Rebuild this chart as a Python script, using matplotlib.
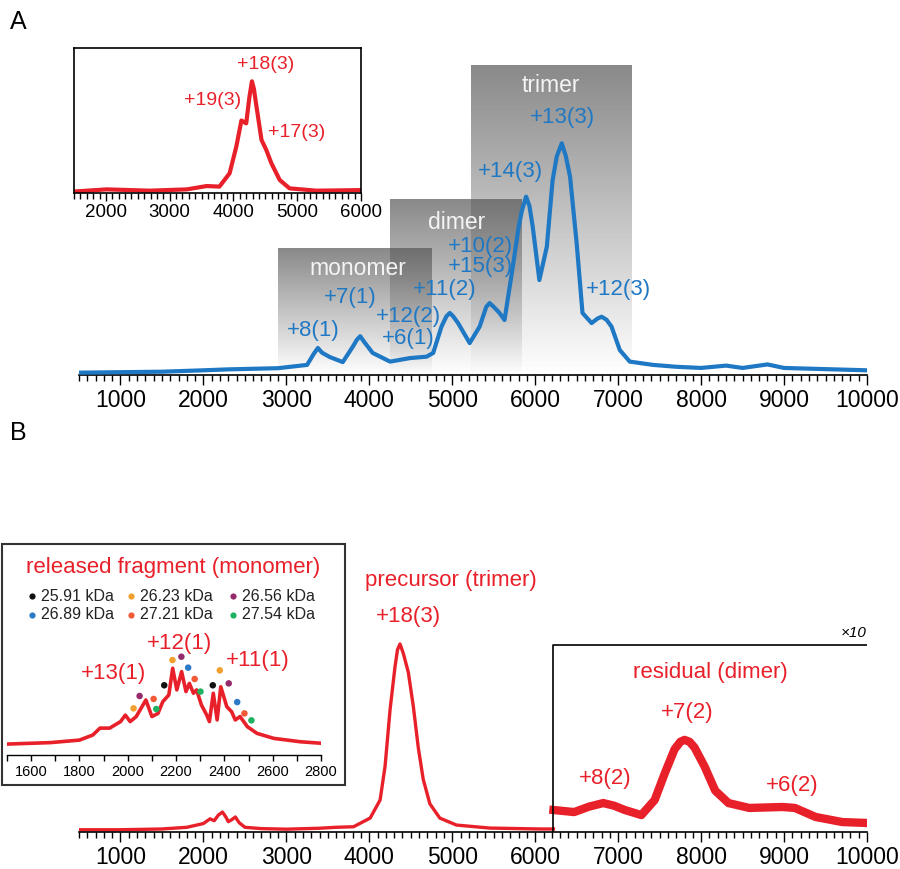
import numpy as np
import matplotlib.pyplot as plt
from matplotlib.patches import Rectangle
from matplotlib.ticker import MultipleLocator

plt.rcParams['font.family'] = ['Liberation Sans', 'DejaVu Sans']

# panel A - native spectrum (m/z, relative intensity)
a_mz = [500, 1000, 1500, 2000, 2300, 2900, 3250, 3330, 3380, 3430, 3520, 3680, 3800, 3850,
        3890, 3940, 4040, 4250, 4490, 4690, 4770, 4870, 4930, 4970, 5010, 5070, 5210, 5330,
        5410, 5450, 5500, 5570, 5630, 5730, 5800, 5840, 5890, 5930, 5970, 6050, 6140, 6210,
        6260, 6320, 6370, 6420, 6500, 6570, 6680, 6750, 6800, 6860, 6920, 7020, 7140, 7420,
        7700, 8000, 8300, 8500, 8800, 9000, 9500, 10000]
a_int = [0.010, 0.012, 0.014, 0.020, 0.024, 0.029, 0.043, 0.09, 0.115, 0.095, 0.077, 0.055,
         0.12, 0.15, 0.165, 0.14, 0.094, 0.057, 0.072, 0.078, 0.094, 0.206, 0.25, 0.264, 0.25,
         0.221, 0.136, 0.206, 0.29, 0.306, 0.29, 0.264, 0.234, 0.461, 0.63, 0.70, 0.759,
         0.72, 0.631, 0.404, 0.546, 0.83, 0.93, 0.986, 0.93, 0.844, 0.56, 0.264, 0.221, 0.24,
         0.248, 0.235, 0.206, 0.106, 0.057, 0.043, 0.035, 0.03, 0.04, 0.03, 0.045, 0.03,
         0.025, 0.02]

# oligomer regions shaded in panel A
regions = ['monomer', 'dimer', 'trimer']
region_start = [2900, 4250, 5220]
region_end = [4750, 5830, 7160]
region_top = [0.54, 0.745, 1.315]

# inset of panel A
ins_a_mz = [1500, 2010, 2690, 3270, 3580, 3780, 3940, 4045, 4125, 4200, 4250, 4290, 4320,
            4360, 4440, 4515, 4595, 4725, 4880, 5300, 6000]
ins_a_int = [0.01, 0.025, 0.016, 0.025, 0.048, 0.044, 0.136, 0.32, 0.50, 0.48, 0.66, 0.77,
             0.72, 0.60, 0.366, 0.297, 0.205, 0.09, 0.032, 0.016, 0.02]

# panel B - after activation
b_mz = [500, 1000, 1500, 1800, 1900, 2000, 2080, 2130, 2180, 2230, 2270, 2300, 2340, 2385,
        2430, 2500, 2700, 3000, 3400, 3600, 3810, 4010, 4130, 4190, 4250, 4310, 4340, 4370,
        4410, 4470, 4530, 4590, 4650, 4730, 4850, 5050, 5450, 6060, 6220]
b_int = [0.012, 0.012, 0.016, 0.025, 0.035, 0.045, 0.07, 0.06, 0.09, 0.106, 0.08, 0.055,
         0.065, 0.08, 0.05, 0.025, 0.018, 0.015, 0.02, 0.025, 0.028, 0.074, 0.17, 0.35, 0.65,
         0.88, 0.97, 1.0, 0.95, 0.85, 0.67, 0.45, 0.28, 0.15, 0.074, 0.037, 0.021, 0.016,
         0.016]

# residual dimer region, shown x10
res_mz = [6220, 6470, 6650, 6820, 6950, 7080, 7280, 7440, 7560, 7680, 7750, 7800, 7860, 7920,
          8040, 8170, 8330, 8580, 8980, 9130, 9380, 9700, 10000]
res_int = [0.117, 0.106, 0.135, 0.154, 0.14, 0.117, 0.09, 0.17, 0.31, 0.44, 0.48, 0.49, 0.48,
           0.45, 0.35, 0.22, 0.154, 0.128, 0.133, 0.128, 0.08, 0.053, 0.048]

# released fragment zoom
frag_mz = [1500, 1680, 1800, 1855, 1885, 1925, 1970, 1990, 2010, 2035, 2075, 2100, 2125, 2145,
           2170, 2186, 2203, 2223, 2241, 2255, 2272, 2285, 2305, 2327, 2338, 2354, 2370, 2385,
           2410, 2430, 2445, 2465, 2495, 2535, 2605, 2715, 2800]
frag_int = [0.052, 0.059, 0.071, 0.095, 0.128, 0.128, 0.159, 0.19, 0.159, 0.183, 0.262, 0.183,
            0.198, 0.254, 0.286, 0.413, 0.31, 0.397, 0.302, 0.341, 0.294, 0.31, 0.238, 0.19,
            0.159, 0.294, 0.167, 0.325, 0.23, 0.206, 0.167, 0.183, 0.135, 0.103, 0.079, 0.063,
            0.056]

species = ['25.91 kDa', '26.23 kDa', '26.56 kDa', '26.89 kDa', '27.21 kDa', '27.54 kDa']
species_colors = ['#111111', '#f0a030', '#952a6c', '#2a7ac8', '#f05a36', '#1fb15f']
dot_mz = [2024, 2049, 2107, 2118, 2151, 2185, 2222, 2250, 2277, 2301, 2352, 2381, 2418, 2453,
          2483, 2512]
dot_int = [0.222, 0.281, 0.267, 0.219, 0.332, 0.452, 0.468, 0.416, 0.362, 0.302, 0.332, 0.403,
           0.341, 0.252, 0.198, 0.165]
dot_species = [1, 2, 4, 5, 0, 1, 2, 3, 4, 5, 0, 1, 2, 3, 4, 5]

blue = '#1f78c4'
red = '#e8202a'
sans = ['Liberation Sans', 'DejaVu Sans']

W, H = 900, 869
fig = plt.figure(figsize=(W / 100, H / 100), dpi=100)


def box(x0, y0, x1, y1):
    # pixel box (top-left origin) -> figure fraction rect
    return [x0 / W, 1 - y1 / H, (x1 - x0) / W, (y1 - y0) / H]


def bottom_axis(ax, labelsize, major, minor, majlen=7, minlen=4):
    for s in ['left', 'right', 'top']:
        ax.spines[s].set_visible(False)
    ax.spines['bottom'].set_linewidth(1.2)
    ax.set_yticks([])
    ax.set_xticks(major)
    ax.xaxis.set_minor_locator(MultipleLocator(minor))
    ax.tick_params(axis='x', which='major', length=majlen, width=1, labelsize=labelsize, pad=3)
    ax.tick_params(axis='x', which='minor', length=minlen, width=1)


# ---------------- panel A ----------------
axA = fig.add_axes(box(79, 57.75, 867, 375))
for name, x0, x1, top in zip(regions, region_start, region_end, region_top):
    rgba = np.zeros((256, 1, 4))
    rgba[..., :3] = 0.34
    rgba[:, 0, 3] = np.linspace(0, 0.7, 256)
    axA.imshow(rgba, extent=[x0, x1, 0, top], origin='lower', aspect='auto', zorder=1,
               interpolation='bilinear')
axA.plot(a_mz, a_int, color=blue, lw=3.0, zorder=3, solid_joinstyle='round')
axA.set_xlim(500, 10000)
axA.set_ylim(0, 1.35)
bottom_axis(axA, 16.5, range(1000, 10001, 1000), 100)

for txt, x, y in [('monomer', 3863, 0.455), ('dimer', 5057, 0.651), ('trimer', 6190, 1.234)]:
    axA.text(x, y, txt, color='#f4f4f4', fontsize=16.5, ha='center', va='center', zorder=4)

a_labels = [('+13(3)', 6323, 1.094), ('+14(3)', 5696, 0.864), ('+10(2)', 5334, 0.545),
            ('+15(3)', 5334, 0.46), ('+11(2)', 4912, 0.362), ('+7(1)', 3767, 0.328),
            ('+12(2)', 4466, 0.247), ('+8(1)', 3321, 0.191), ('+6(1)', 4466, 0.157),
            ('+12(3)', 6998, 0.362)]
for txt, x, y in a_labels:
    axA.text(x, y, txt, color=blue, fontsize=16, ha='center', va='center', zorder=4)

# inset of A
axAi = fig.add_axes(box(74, 48, 361, 193))
axAi.plot(ins_a_mz, ins_a_int, color=red, lw=3.0, solid_joinstyle='round')
axAi.set_xlim(1500, 6000)
axAi.set_ylim(0, 1)
for s in axAi.spines.values():
    s.set_linewidth(1.2)
axAi.set_yticks([])
axAi.set_xticks(range(2000, 6001, 1000))
axAi.xaxis.set_minor_locator(MultipleLocator(100))
axAi.tick_params(axis='x', which='major', length=6, width=1, labelsize=13.5, pad=2)
axAi.tick_params(axis='x', which='minor', length=4, width=1)
for txt, x, y in [('+18(3)', 4512, 0.883), ('+19(3)', 3680, 0.641), ('+17(3)', 4998, 0.414)]:
    axAi.text(x, y, txt, color=red, fontsize=14, ha='center', va='center')

# ---------------- panel B ----------------
axB = fig.add_axes(box(79, 559.4, 867, 832))
axB.plot(b_mz, b_int, color=red, lw=2.4, solid_joinstyle='round')
axB.plot(res_mz, res_int, color=red, lw=6.0, solid_joinstyle='round')
axB.plot([6220, 6220, 10000], [0, 0.995, 0.995], color='black', lw=1.2)
axB.set_xlim(500, 10000)
axB.set_ylim(0, 1.45)
bottom_axis(axB, 16.5, range(1000, 10001, 1000), 100)
axB.text(10000, 1.02, '×10', fontsize=11, style='italic', ha='right', va='bottom')
b_labels = [('precursor (trimer)', 4985, 1.34), ('+18(3)', 4466, 1.144),
            ('residual (dimer)', 8107, 0.846), ('+7(2)', 7830, 0.633),
            ('+8(2)', 6841, 0.287), ('+6(2)', 9095, 0.25)]
for txt, x, y in b_labels:
    axB.text(x, y, txt, color=red, fontsize=16, ha='center', va='center')

# released fragment inset with frame
fig.add_artist(Rectangle(box(2, 544, 345, 785)[:2], 343 / W, 241 / H, transform=fig.transFigure,
                         fill=False, edgecolor='#333333', lw=1.5))
axBi = fig.add_axes(box(7, 545, 321, 755))
axBi.patch.set_visible(False)
axBi.plot(frag_mz, frag_int, color=red, lw=2.6, solid_joinstyle='round')
axBi.scatter(dot_mz, dot_int, c=[species_colors[i] for i in dot_species], s=22, zorder=3,
             linewidths=0)
axBi.set_xlim(1500, 2800)
axBi.set_ylim(0, 1)
bottom_axis(axBi, 10.5, range(1600, 2801, 200), 100, majlen=4, minlen=4)
axBi.spines['bottom'].set_linewidth(1.0)
axBi.text(2187, 0.895, 'released fragment (monomer)', color=red, fontsize=16,
          ha='center', va='center')
legend_x = [1603, 2013, 2436]
legend_y = [0.757, 0.667]
for i, (lab, col) in enumerate(zip(species, species_colors)):
    x, y = legend_x[i % 3], legend_y[i // 3]
    axBi.scatter([x], [y], color=col, s=20, linewidths=0)
    axBi.text(x + 38, y, lab, fontsize=11.5, ha='left', va='center', color='#222222')
for txt, x, y in [('+13(1)', 1939, 0.39), ('+12(1)', 2216, 0.533), ('+11(1)', 2539, 0.452)]:
    axBi.text(x, y, txt, color=red, fontsize=16, ha='center', va='center')

fig.text(18 / W, 1 - 22 / H, 'A', fontsize=18, ha='center', va='center')
fig.text(18 / W, 1 - 433 / H, 'B', fontsize=18, ha='center', va='center')

fig.savefig('out.png', dpi=100)
